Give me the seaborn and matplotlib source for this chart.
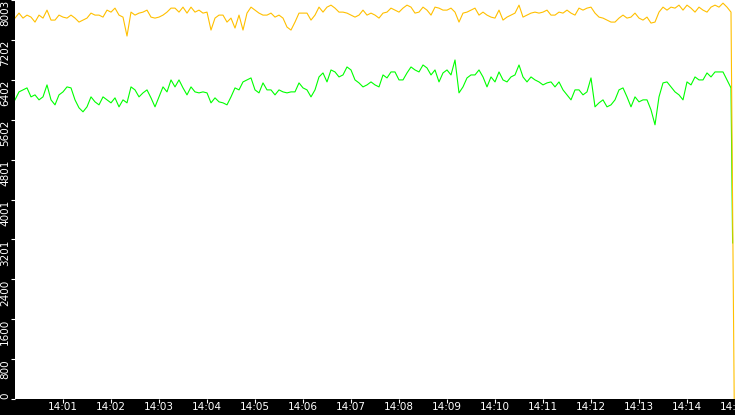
import pandas as pd
import matplotlib
matplotlib.use("Agg")
import matplotlib.pyplot as plt
import matplotlib.dates as mdates
import seaborn as sns

# valeurs, un point toutes les 5 s depuis 14:00:00
orange_vals = [
    7640, 7740, 7640, 7700, 7660, 7560, 7700, 7640, 7800, 7600, 7600, 7700, 7660, 7640, 7700,
    7640, 7560, 7600, 7640, 7740, 7700, 7700, 7660, 7800, 7760, 7840, 7700, 7660, 7280, 7760,
    7700, 7740, 7760, 7800, 7660, 7640, 7660, 7700, 7760, 7840, 7840, 7760, 7860, 7740, 7860,
    7760, 7800, 7740, 7760, 7400, 7640, 7700, 7700, 7560, 7640, 7440, 7700, 7400, 7740, 7860,
    7800, 7740, 7700, 7700, 7740, 7660, 7700, 7640, 7460, 7400, 7560, 7740, 7740, 7740, 7600,
    7700, 7860, 7760, 7860, 7900, 7840, 7760, 7760, 7740, 7700, 7660, 7700, 7800, 7700, 7740,
    7700, 7640, 7740, 7760, 7840, 7800, 7760, 7840, 7900, 7860, 7740, 7760, 7860, 7800, 7700,
    7860, 7840, 7800, 7800, 7840, 7760, 7560, 7740, 7760, 7800, 7840, 7700, 7760, 7700, 7660,
    7640, 7800, 7600, 7660, 7700, 7740, 7900, 7660, 7700, 7740, 7760, 7740, 7760, 7800, 7700,
    7700, 7760, 7740, 7800, 7740, 7700, 7840, 7800, 7840, 7860, 7740, 7660, 7640, 7600, 7560,
    7560, 7640, 7700, 7640, 7660, 7740, 7640, 7600, 7660, 7540, 7560, 7760, 7860, 7800, 7860,
    7840, 7900, 7800, 7900, 7840, 7760, 7860, 7800, 7760, 7860, 7900, 7860, 7940, 7860, 7760,
]
green_vals = [
    6000, 6160, 6200, 6240, 6060, 6100, 6000, 6060, 6300, 6000, 5900, 6100, 6160, 6260, 6240,
    6000, 5840, 5760, 5860, 6060, 5960, 5900, 6060, 6000, 5940, 6040, 5860, 6000, 5940, 6260,
    6200, 6060, 6140, 6200, 6040, 5860, 6060, 6260, 6160, 6400, 6260, 6400, 6240, 6100, 6260,
    6160, 6140, 6160, 6140, 5940, 6040, 5960, 5940, 5900, 6060, 6240, 6200, 6360, 6400, 6440,
    6200, 6140, 6340, 6200, 6200, 6100, 6200, 6160, 6140, 6160, 6160, 6340, 6240, 6200, 6060,
    6200, 6460, 6540, 6360, 6600, 6560, 6460, 6500, 6660, 6600, 6400, 6340, 6260, 6300, 6360,
    6300, 6260, 6500, 6440, 6560, 6560, 6400, 6400, 6540, 6660, 6600, 6560, 6700, 6640, 6500,
    6600, 6360, 6540, 6600, 6500, 6800, 6140, 6260, 6440, 6500, 6500, 6600, 6460, 6260, 6460,
    6360, 6560, 6400, 6360, 6460, 6500, 6700, 6460, 6360, 6460, 6400, 6360, 6300, 6340, 6360,
    6260, 6360, 6200, 6100, 6000, 6200, 6200, 6100, 6160, 6440, 5860, 5940, 6000, 5860, 5900,
    6000, 6200, 6240, 6060, 5860, 6060, 5960, 6000, 6000, 5800, 5500, 6060, 6340, 6360, 6260,
    6160, 6100, 6000, 6360, 6300, 6460, 6400, 6400, 6540, 6460, 6560, 6560, 6560, 6400, 6240,
]
# chute finale en bout de graphe
green_end = ("2024-01-01 14:14:57", 3130)
orange_end = ("2024-01-01 14:14:59", 0)

ytick_vals = [0, 800, 1600, 2400, 3201, 4001, 4801, 5602, 6402, 7202, 8003]
ytick_labels = ["0", "800", "1600", "2400", "3201", "4001", "4801", "5602", "6402", "7202", "8003"]

t = pd.date_range("2024-01-01 14:00:00", periods=len(orange_vals), freq="5s")
df_o = pd.DataFrame({"t": list(t) + [pd.Timestamp(orange_end[0])], "v": orange_vals + [orange_end[1]]})
df_g = pd.DataFrame({"t": list(t) + [pd.Timestamp(green_end[0])], "v": green_vals + [green_end[1]]})

fig = plt.figure(figsize=(7.35, 4.15), dpi=100, facecolor="black")
ax = fig.add_axes([15 / 735, 16 / 415, 720 / 735, 399 / 415])
ax.set_facecolor("white")

sns.lineplot(data=df_g, x="t", y="v", color="#00ff00", lw=0.8, ax=ax)
sns.lineplot(data=df_o, x="t", y="v", color="#ffc000", lw=0.8, ax=ax)

ax.set_xlim(pd.Timestamp("2024-01-01 14:00:00"), pd.Timestamp("2024-01-01 14:15:00"))
ax.set_ylim(0, 8003)
ax.set_xlabel("")
ax.set_ylabel("")
for s in ax.spines.values():
    s.set_visible(False)

ax.xaxis.set_major_locator(mdates.MinuteLocator(byminute=range(1, 16)))
ax.xaxis.set_major_formatter(mdates.DateFormatter("%H:%M"))
ax.set_yticks(ytick_vals)
ax.set_yticklabels(ytick_labels, rotation=90)

ax.tick_params(axis="both", colors="white", labelcolor="white", labelsize=7.5,
               direction="out", width=0.8)
ax.tick_params(axis="y", length=3, pad=0.5)
ax.tick_params(axis="x", length=3, pad=-0.5)
for lab in ax.get_yticklabels():
    lab.set_va("top")
ax.get_yticklabels()[0].set_va("bottom")

fig.savefig("out.png", dpi=100, facecolor="black")
